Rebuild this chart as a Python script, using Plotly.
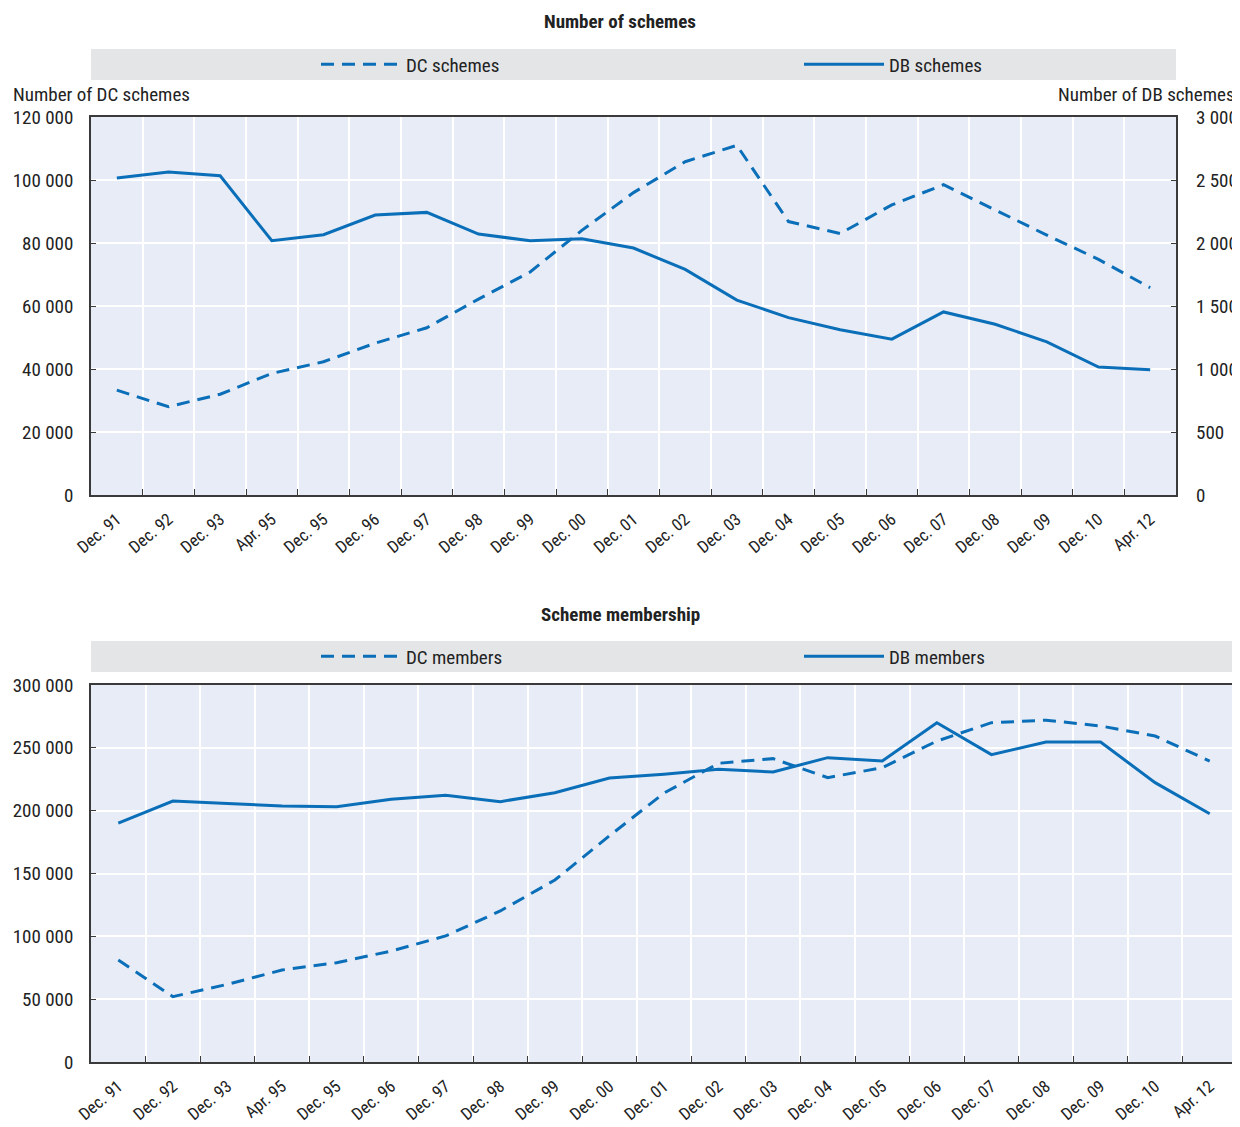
import plotly.graph_objects as go

# ---------------- data ----------------
categories = ["Dec. 91", "Dec. 92", "Dec. 93", "Apr. 95", "Dec. 95", "Dec. 96", "Dec. 97",
              "Dec. 98", "Dec. 99", "Dec. 00", "Dec. 01", "Dec. 02", "Dec. 03", "Dec. 04",
              "Dec. 05", "Dec. 06", "Dec. 07", "Dec. 08", "Dec. 09", "Dec. 10", "Apr. 12"]

dc_schemes = [33300, 28000, 32000, 38600, 42300, 48200, 53100, 62200, 70800, 84000, 96000,
              105800, 111000, 86800, 83000, 92100, 98500, 90500, 82500, 74800, 65800]
db_schemes = [2516, 2563, 2534, 2018, 2066, 2222, 2243, 2071, 2018, 2034, 1960,
              1790, 1547, 1408, 1311, 1237, 1453, 1355, 1216, 1016, 995]

dc_members = [81200, 52000, 61800, 73200, 79000, 88300, 100300, 120200, 144800, 180000, 214000,
              237700, 241400, 226300, 234200, 255400, 270000, 272000, 267400, 259400, 239500]
db_members = [190000, 207700, 205800, 203700, 203200, 209000, 212200, 207200, 214300, 226000, 229000,
              232900, 230800, 242200, 239500, 270000, 244600, 254600, 254600, 222300, 197500]

top_title = "Number of schemes"
bottom_title = "Scheme membership"
left_title_top = "Number of DC schemes"
right_title_top = "Number of DB schemes"

# ---------------- style ----------------
OFF = 8                      # page body margin of the browser
W, H = 1240 - OFF, 1127 - OFF
BLUE = "#0a6fb8"
PLOT_BG = "#e8ecf6"
BAND = "#e4e5e7"
FRAME = "#3a3a3a"
FONT = "Roboto Condensed, Liberation Sans Narrow, sans-serif"
TXT = "#222222"
DASH = "13px,8px"
FS = 19


def px(x):
    return (x - OFF) / W


def py(y):
    return 1 - (y - OFF) / H


fig = go.Figure()
fig.add_trace(go.Scatter(x=categories, y=dc_schemes, name="DC schemes", mode="lines",
                         line=dict(color=BLUE, width=3, dash=DASH),
                         xaxis="x", yaxis="y", legend="legend"))
fig.add_trace(go.Scatter(x=categories, y=db_schemes, name="DB schemes", mode="lines",
                         line=dict(color=BLUE, width=3),
                         xaxis="x", yaxis="y2", legend="legend2"))
fig.add_trace(go.Scatter(x=categories, y=dc_members, name="DC members", mode="lines",
                         line=dict(color=BLUE, width=3, dash=DASH),
                         xaxis="x2", yaxis="y3", legend="legend3"))
fig.add_trace(go.Scatter(x=categories, y=db_members, name="DB members", mode="lines",
                         line=dict(color=BLUE, width=3),
                         xaxis="x2", yaxis="y3", legend="legend4"))

xcommon = dict(type="category", range=[-0.5, len(categories) - 0.5],
               tickson="boundaries", ticks="inside", ticklen=6,
               tickcolor=FRAME, tickwidth=1, showgrid=True, gridcolor="white", gridwidth=1.5,
               showline=True, mirror=True, linecolor=FRAME, linewidth=1.8,
               tickangle=-40, tickfont=dict(size=17, color=TXT, family=FONT),
               ticklabelstandoff=6,
               automargin=False, fixedrange=True, zeroline=False)
ycommon = dict(ticks="inside", ticklen=5, tickcolor=FRAME, showgrid=True, gridcolor="white",
               gridwidth=1.5, showline=True, mirror=True, linecolor=FRAME, linewidth=1.8,
               tickformat=",d", tickfont=dict(size=FS, color=TXT, family=FONT),
               ticklabelstandoff=12, automargin=False, fixedrange=True, zeroline=False)


def leg(x, y):
    return dict(orientation="h", x=px(x), y=py(y), xanchor="left", yanchor="middle",
                bgcolor="rgba(0,0,0,0)", itemwidth=80,
                font=dict(size=FS, color=TXT, family=FONT))


fig.update_layout(
    width=W, height=H,
    margin=dict(l=0, r=0, t=0, b=0),
    paper_bgcolor="white",
    plot_bgcolor=PLOT_BG,
    separators=". ",
    font=dict(family=FONT, color=TXT),
    xaxis=dict(domain=[px(91), px(1176)], anchor="y", **xcommon),
    yaxis=dict(domain=[py(495), py(117)], anchor="x", range=[0, 120000], dtick=20000, **ycommon),
    yaxis2=dict(overlaying="y", side="right", anchor="x", range=[0, 3000], dtick=500,
                ticks="inside", ticklen=5, tickcolor=FRAME, showgrid=False, showline=False,
                tickformat=",d", tickfont=dict(size=FS, color=TXT, family=FONT),
                ticklabelstandoff=19, automargin=False, fixedrange=True, zeroline=False),
    xaxis2=dict(domain=[px(91), px(1237)], anchor="y3", **xcommon),
    yaxis3=dict(domain=[py(1062), py(685)], anchor="x2", range=[0, 300000], dtick=50000, **ycommon),
    legend=leg(316, 64.5),
    legend2=leg(799, 64.5),
    legend3=leg(316, 656.5),
    legend4=leg(799, 656.5),
    showlegend=True,
    shapes=[
        dict(type="rect", xref="paper", yref="paper", x0=px(91), x1=px(1176), y0=py(80), y1=py(49),
             fillcolor=BAND, line=dict(width=0), layer="below"),
        dict(type="rect", xref="paper", yref="paper", x0=px(91), x1=px(1237), y0=py(672), y1=py(641),
             fillcolor=BAND, line=dict(width=0), layer="below"),
    ],
    annotations=[
        dict(text="<b>" + top_title + "</b>", xref="paper", yref="paper", x=px(620), y=py(22),
             xanchor="center", yanchor="middle", showarrow=False, font=dict(size=19, color=TXT)),
        dict(text="<b>" + bottom_title + "</b>", xref="paper", yref="paper", x=px(620), y=py(614),
             xanchor="center", yanchor="middle", showarrow=False, font=dict(size=19, color=TXT)),
        dict(text=left_title_top, xref="paper", yref="paper", x=px(11), y=py(94.5),
             xanchor="left", yanchor="middle", showarrow=False, font=dict(size=FS, color=TXT)),
        dict(text=right_title_top, xref="paper", yref="paper", x=px(1237), y=py(94.5),
             xanchor="right", yanchor="middle", showarrow=False, font=dict(size=FS, color=TXT)),
    ],
)

fig.write_html("out.html")
